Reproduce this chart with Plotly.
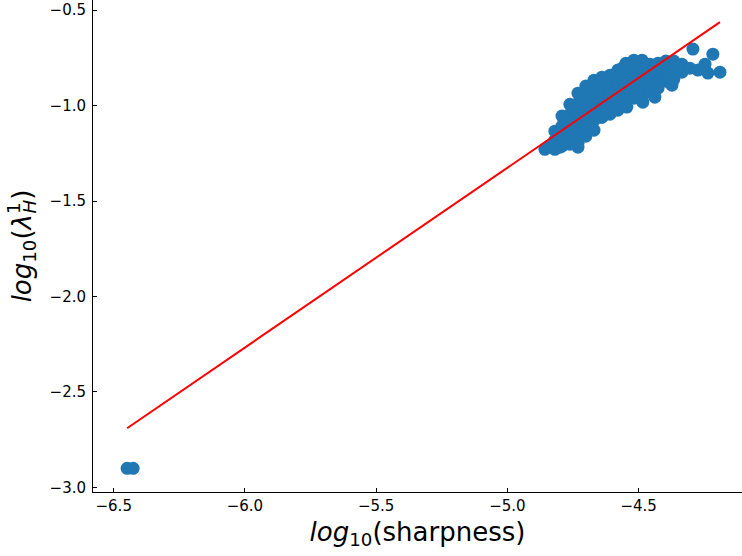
import plotly.graph_objects as go

# log10 of sharpness vs log10 of the top Hessian eigenvalue, one point per model
sharp_log = [
    -6.449, -6.426,
    -4.857, -4.842,
    -4.819, -4.819, -4.819,
    -4.792, -4.792, -4.792, -4.792,
    -4.762, -4.762, -4.762, -4.762, -4.762,
    -4.731, -4.731, -4.731, -4.731, -4.731, -4.731,
    -4.701, -4.701, -4.701, -4.701, -4.701, -4.701,
    -4.670, -4.670, -4.670, -4.670, -4.670, -4.670,
    -4.640, -4.640, -4.640, -4.640, -4.640,
    -4.609, -4.609, -4.609, -4.609, -4.609,
    -4.579, -4.579, -4.579, -4.579, -4.579,
    -4.548, -4.548, -4.548, -4.548, -4.548,
    -4.518, -4.518, -4.518, -4.518, -4.518,
    -4.487, -4.487, -4.487, -4.487, -4.487,
    -4.457, -4.457, -4.457, -4.457,
    -4.426, -4.426, -4.426, -4.426,
    -4.396, -4.396, -4.396,
    -4.366, -4.366, -4.366,
    -4.335, -4.335,
    -4.305, -4.274,
    -4.800, -4.731, -4.640, -4.545, -4.484, -4.438, -4.373,
    -4.293, -4.247, -4.236, -4.217, -4.190,
    -4.805, -4.777, -4.746, -4.716, -4.685, -4.655, -4.624, -4.594,
    -4.563, -4.533, -4.502, -4.472, -4.441, -4.411, -4.381, -4.350,
    -4.780, -4.750, -4.715, -4.685, -4.655, -4.620, -4.590, -4.560,
]
eig_log = [
    -2.900, -2.900,
    -1.229, -1.213,
    -1.134, -1.181, -1.229,
    -1.055, -1.108, -1.160, -1.213,
    -0.993, -1.045, -1.097, -1.150, -1.202,
    -0.935, -0.987, -1.040, -1.092, -1.145, -1.197,
    -0.898, -0.951, -1.003, -1.055, -1.108, -1.160,
    -0.867, -0.919, -0.972, -1.024, -1.077, -1.129,
    -0.851, -0.904, -0.956, -1.008, -1.061,
    -0.841, -0.893, -0.946, -0.998, -1.045,
    -0.814, -0.867, -0.919, -0.972, -1.024,
    -0.778, -0.830, -0.883, -0.935, -0.982,
    -0.762, -0.814, -0.867, -0.919, -0.961,
    -0.762, -0.814, -0.867, -0.919, -0.951,
    -0.783, -0.835, -0.888, -0.930,
    -0.778, -0.830, -0.883, -0.909,
    -0.767, -0.820, -0.872,
    -0.767, -0.814, -0.862,
    -0.783, -0.825,
    -0.804, -0.814,
    -1.218, -1.218, -1.061, -1.008, -0.982, -0.956, -0.893,
    -0.704, -0.783, -0.830, -0.731, -0.825,
    -1.150, -1.080, -1.020, -0.975, -0.940, -0.900, -0.870, -0.845,
    -0.805, -0.790, -0.790, -0.800, -0.805, -0.795, -0.790, -0.800,
    -1.190, -1.175, -1.150, -1.095, -1.060, -1.035, -1.010, -0.970,
]

# least-squares fit line, evaluated at the extreme sharpness values
fit_x = [-6.449, -4.190]
fit_y = [-2.690, -0.563]

x_ticks = [-6.5, -6.0, -5.5, -5.0, -4.5]
y_ticks = [-3.0, -2.5, -2.0, -1.5, -1.0, -0.5]


def fmt(v):
    return f"{v:.1f}".replace("-", "\u2212")


fig = go.Figure()
fig.add_trace(go.Scatter(
    x=sharp_log, y=eig_log, mode="markers",
    marker=dict(size=13, color="#1f77b4", line=dict(width=0)),
    showlegend=False,
))
fig.add_trace(go.Scatter(
    x=fit_x, y=fit_y, mode="lines",
    line=dict(color="red", width=2),
    showlegend=False,
))

font = "DejaVu Sans, Arial, sans-serif"
fig.update_layout(
    width=742, height=556,
    margin=dict(l=93, r=0, t=0, b=64),
    paper_bgcolor="white", plot_bgcolor="white",
    font=dict(family=font, color="black", size=15),
    xaxis=dict(
        range=[-6.579, -4.106], tickvals=x_ticks,
        ticktext=[fmt(v) for v in x_ticks],
        ticks="inside", ticklen=4, tickwidth=1, tickcolor="black",
        showline=True, linecolor="black", linewidth=1, mirror=True,
        showgrid=False, zeroline=False,
        tickfont=dict(size=15),
        title=dict(text="<i>log</i><sub>10</sub>(sharpness)", font=dict(size=26), standoff=8),
    ),
    yaxis=dict(
        range=[-3.024, -0.447], tickvals=y_ticks,
        ticktext=[fmt(v) for v in y_ticks],
        ticks="inside", ticklen=4, tickwidth=1, tickcolor="black",
        ticklabelstandoff=3,
        showline=True, linecolor="black", linewidth=1,
        showgrid=False, zeroline=False,
        tickfont=dict(size=15),
        title=dict(
            text="<i>log</i><sub>10</sub>(<i>λ</i><sup><span style='letter-spacing:-11px'>1</span></sup>"
                 "<sub><i>H</i></sub>)",
            font=dict(size=26), standoff=10),
    ),
)

fig.write_html("out.html")
